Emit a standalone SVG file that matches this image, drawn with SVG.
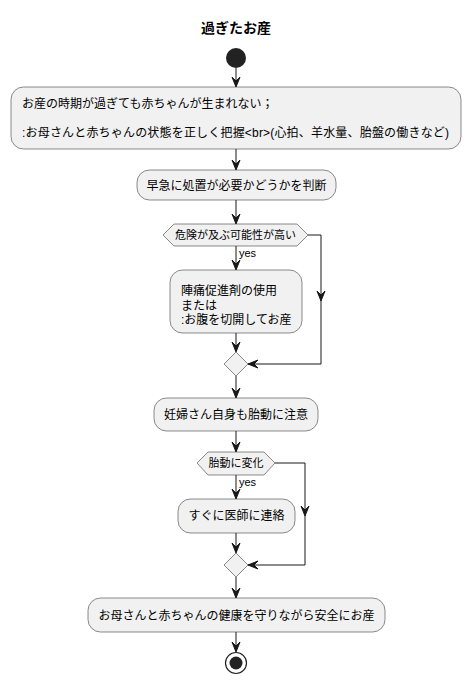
<svg xmlns="http://www.w3.org/2000/svg" width="471" height="683" viewBox="0 0 471 683">
<style>
.box{fill:#F1F1F1;stroke:#181818;stroke-width:0.5}
.t{font-family:"Liberation Sans","Noto Sans CJK JP",sans-serif;font-size:12px;fill:#000}
.s{font-family:"Liberation Sans","Noto Sans CJK JP",sans-serif;font-size:11px;fill:#000}
.ln{fill:none;stroke:#181818;stroke-width:1}
.ah{fill:#181818;stroke:#181818;stroke-width:1}
</style>
<rect width="471" height="683" fill="#FFFFFF"/>
<text x="236" y="33" text-anchor="middle" font-family="Liberation Sans,Noto Sans CJK JP,sans-serif" font-size="14" font-weight="bold">過ぎたお産</text>
<g id="start"><circle cx="236" cy="58" r="10" fill="#222222"/></g>
<g id="n1"><rect class="box" x="11" y="87" width="450" height="62" rx="12.5"/>
<text class="t" x="22" y="108">お産の時期が過ぎても赤ちゃんが生まれない；</text>
<text class="t" x="22" y="137" textLength="427" lengthAdjust="spacing">:お母さんと赤ちゃんの状態を正しく把握&lt;br&gt;(心拍、羊水量、胎盤の働きなど)</text></g>
<g id="n2"><rect class="box" x="137" y="170" width="199" height="30" rx="12.5"/>
<text class="t" x="236.5" y="189.5" text-anchor="middle">早急に処置が必要かどうかを判断</text></g>
<g id="d1"><polygon class="box" points="163,235 174,224 297,224 308,235 297,246 174,246"/>
<text class="s" x="235.5" y="239" text-anchor="middle">危険が及ぶ可能性が高い</text></g>
<g id="n3"><rect class="box" x="170" y="270" width="132" height="63" rx="12.5"/>
<text class="t" x="181" y="295">陣痛促進剤の使用</text>
<text class="t" x="181" y="309.5">または</text>
<text class="t" x="181" y="324">:お腹を切開してお産</text></g>
<g id="m1"><polygon class="box" points="236,352 248,364 236,376 224,364"/></g>
<g id="n4"><rect class="box" x="154" y="398" width="164" height="33" rx="12.5"/>
<text class="t" x="236" y="418.5" text-anchor="middle">妊婦さん自身も胎動に注意</text></g>
<g id="d2"><polygon class="box" points="197,463 208,452 264,452 275,463 264,475 208,475"/>
<text class="s" x="236" y="467" text-anchor="middle">胎動に変化</text></g>
<g id="n5"><rect class="box" x="178" y="499" width="117" height="34" rx="12.5"/>
<text class="t" x="236.5" y="520" text-anchor="middle">すぐに医師に連絡</text></g>
<g id="m2"><polygon class="box" points="236,553 248,565 236,577 224,565"/></g>
<g id="n6"><rect class="box" x="88" y="598" width="297" height="34" rx="12.5"/>
<text class="t" x="236.5" y="619.5" text-anchor="middle">お母さんと赤ちゃんの健康を守りながら安全にお産</text></g>
<g id="end"><circle cx="236" cy="663" r="10.5" fill="none" stroke="#222222" stroke-width="1.2"/><circle cx="236" cy="663" r="6.5" fill="#222222"/></g>
<g id="connectors">
<line class="ln" x1="236" y1="68" x2="236" y2="86"/><polygon class="ah" points="232,77 236,87 240,77 236,81"/>
<line class="ln" x1="236" y1="149" x2="236" y2="169"/><polygon class="ah" points="232,160 236,170 240,160 236,164"/>
<line class="ln" x1="236" y1="200" x2="236" y2="223"/><polygon class="ah" points="232,214 236,224 240,214 236,218"/>
<line class="ln" x1="236" y1="246" x2="236" y2="269"/><polygon class="ah" points="232,260 236,270 240,260 236,264"/>
<text class="s" x="239" y="257">yes</text>
<polyline class="ln" points="308,235 321,235 321,364 248,364"/><polygon class="ah" points="317,291 321,301 325,291 321,295"/><polygon class="ah" points="258,360 248,364 258,368 254,364"/>
<line class="ln" x1="236" y1="333" x2="236" y2="351"/><polygon class="ah" points="232,342 236,352 240,342 236,346"/>
<line class="ln" x1="236" y1="376" x2="236" y2="397"/><polygon class="ah" points="232,388 236,398 240,388 236,392"/>
<line class="ln" x1="236" y1="431" x2="236" y2="451"/><polygon class="ah" points="232,442 236,452 240,442 236,446"/>
<line class="ln" x1="236" y1="475" x2="236" y2="498"/><polygon class="ah" points="232,489 236,499 240,489 236,493"/>
<text class="s" x="239" y="486">yes</text>
<polyline class="ln" points="275,463 305,463 305,565 248,565"/><polygon class="ah" points="301,506 305,516 309,506 305,510"/><polygon class="ah" points="258,561 248,565 258,569 254,565"/>
<line class="ln" x1="236" y1="533" x2="236" y2="552"/><polygon class="ah" points="232,543 236,553 240,543 236,547"/>
<line class="ln" x1="236" y1="577" x2="236" y2="597"/><polygon class="ah" points="232,588 236,598 240,588 236,592"/>
<line class="ln" x1="236" y1="632" x2="236" y2="651"/><polygon class="ah" points="232,642 236,652 240,642 236,646"/>
</g>
</svg>
